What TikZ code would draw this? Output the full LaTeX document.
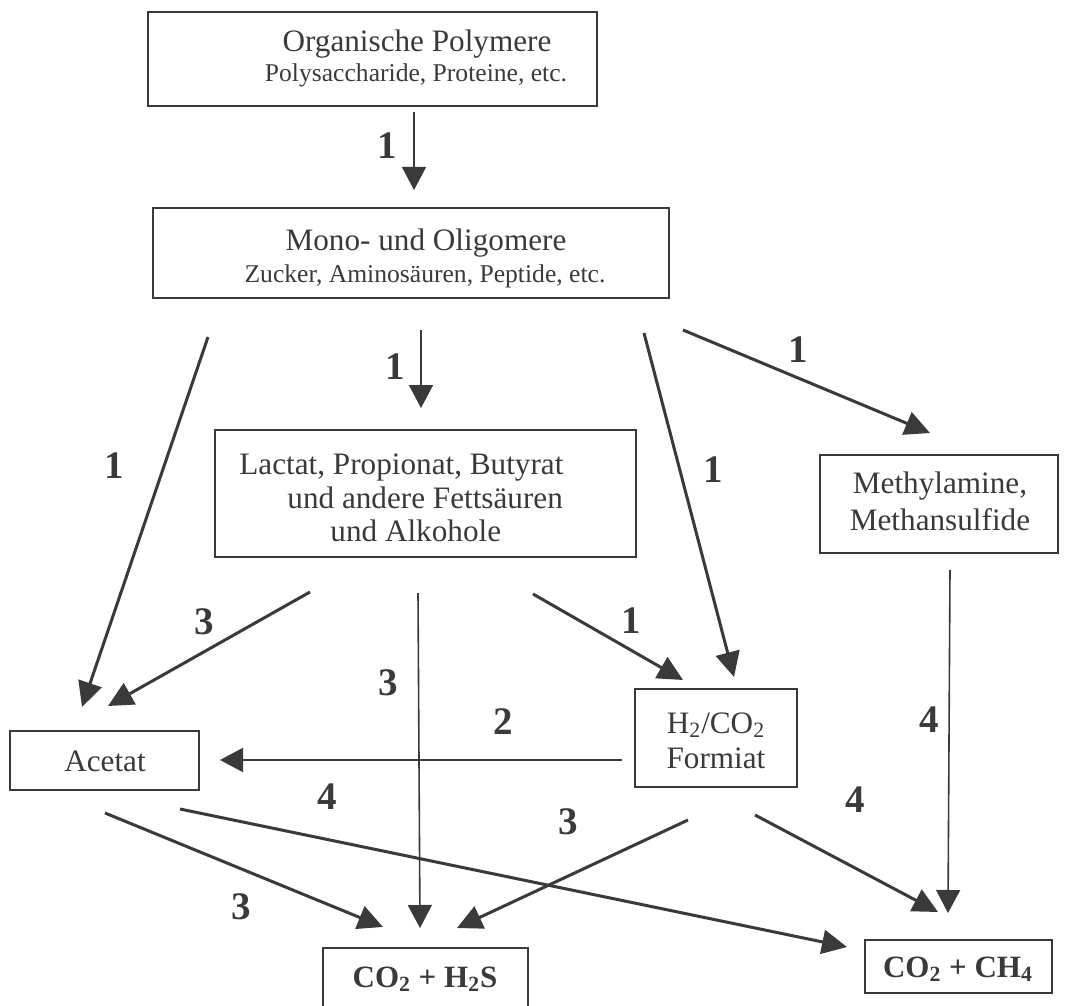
\documentclass[tikz,border=0pt]{standalone}
\usepackage{fontspec}
\setmainfont{Liberation Serif}
\usetikzlibrary{arrows.meta}
\definecolor{ink}{HTML}{3A3A3A}
\begin{document}
\begin{tikzpicture}[x=0.5pt,y=-0.5pt,
  box/.style={draw=ink,line width=0.8pt,inner sep=0pt},
  main/.style={anchor=base,inner sep=0pt,text=ink,font=\fontsize{15.6}{18}\selectfont},
  mainw/.style={anchor=base west,inner sep=0pt,text=ink,font=\fontsize{15.6}{18}\selectfont},
  sub/.style={anchor=base,inner sep=0pt,text=ink,font=\fontsize{12.8}{15}\selectfont},
  lbl/.style={inner sep=0pt,text=ink,font=\fontsize{19.5}{22}\selectfont\bfseries},
  prod/.style={anchor=base,inner sep=0pt,text=ink,font=\fontsize{15.5}{19}\selectfont\bfseries},
  thinarrow/.style={draw=ink,line width=0.8pt,-{Triangle[width=12pt,length=11.5pt]}},
  thickarrow/.style={draw=ink,line width=1.5pt,-{Triangle[width=12pt,length=12.5pt]}},
]
\useasboundingbox (0,0) rectangle (1072,1006);
\fill[white] (0,0) rectangle (1072,1006);

% boxes
\node[box,minimum width=224.5pt,minimum height=47pt] (poly) at (372.5,59) {};
\node[box,minimum width=258pt,minimum height=45pt] (mono) at (411,253) {};
\node[box,minimum width=210.5pt,minimum height=63.5pt] (lact) at (425.5,493.5) {};
\node[box,minimum width=119pt,minimum height=49pt] (meth) at (939,504) {};
\node[box,minimum width=94.5pt,minimum height=29.5pt] (acet) at (104.5,760.5) {};
\node[box,minimum width=81pt,minimum height=49pt] (hyd) at (716,738) {};
\node[box,minimum width=102.5pt,minimum height=32pt] (hs) at (425.5,980) {};
\node[box,minimum width=93.5pt,minimum height=26.5pt] (ch) at (958.5,966.5) {};

% texts
\node[main] (t1a) at (417,52) {Organische Polymere};
\node[sub]  (t1b) at (416,82) {Polysaccharide, Proteine, etc.};
\node[main] (t2a) at (426,250) {Mono- und Oligomere};
\node[sub]  (t2b) at (425,282) {Zucker, Aminosäuren, Peptide, etc.};
\node[mainw] (t3a) at (239,474) {Lactat, Propionat, Butyrat};
\node[mainw] (t3b) at (287,508) {und andere Fettsäuren};
\node[mainw] (t3c) at (330,541) {und Alkohole};
\node[main] (t4a) at (940,493) {Methylamine,};
\node[main] (t4b) at (940,530) {Methansulfide};
\node[main] (t5) at (105,771) {Acetat};
\node[main] (t6a) at (716,733) {H\textsubscript{2}/CO\textsubscript{2}};
\node[main] (t6b) at (716,768) {Formiat};
\node[prod] (t7) at (425,987) {CO\textsubscript{2} + H\textsubscript{2}S};
\node[prod] (t8) at (958,977) {CO\textsubscript{2} + CH\textsubscript{4}};

% arrow end points
\coordinate (a1s) at (414,112);  \coordinate (a1e) at (414,190);
\coordinate (a2s) at (421,330);  \coordinate (a2e) at (421,408);
\coordinate (a3s) at (208,337);  \coordinate (a3e) at (82,707);
\coordinate (a4s) at (644,333);  \coordinate (a4e) at (734,677);
\coordinate (a5s) at (683,330);  \coordinate (a5e) at (930,433);
\coordinate (a6s) at (310,592);  \coordinate (a6e) at (108,706);
\coordinate (a7s) at (418,593);  \coordinate (a7e) at (420,928);
\coordinate (a8s) at (533,594);  \coordinate (a8e) at (683,680);
\coordinate (a9s) at (622,760);  \coordinate (a9e) at (220,760);
\coordinate (a10s) at (105,813); \coordinate (a10e) at (383,927);
\coordinate (a11s) at (180,809); \coordinate (a11e) at (847,947);
\coordinate (a12s) at (688,820); \coordinate (a12e) at (457,928);
\coordinate (a13s) at (755,815); \coordinate (a13e) at (938,912);
\coordinate (a14s) at (950,570); \coordinate (a14e) at (948,913);

\draw[thinarrow] (a1s) -- (a1e);
\draw[thinarrow] (a2s) -- (a2e);
\draw[thickarrow] (a3s) -- (a3e);
\draw[thickarrow] (a4s) -- (a4e);
\draw[thickarrow] (a5s) -- (a5e);
\draw[thickarrow] (a6s) -- (a6e);
\draw[thinarrow] (a7s) -- (a7e);
\draw[thickarrow] (a8s) -- (a8e);
\draw[thinarrow,line width=1pt] (a9s) -- (a9e);
\draw[thickarrow] (a10s) -- (a10e);
\draw[thickarrow] (a11s) -- (a11e);
\draw[thickarrow] (a12s) -- (a12e);
\draw[thickarrow] (a13s) -- (a13e);
\draw[thinarrow] (a14s) -- (a14e);

% labels
\node[lbl] (l1) at (387,146) {1};
\node[lbl] (l2) at (395,367) {1};
\node[lbl] (l3) at (114,466) {1};
\node[lbl] (l4) at (713,470) {1};
\node[lbl] (l5) at (798,350) {1};
\node[lbl] (l6) at (204,622) {3};
\node[lbl] (l7) at (388,683) {3};
\node[lbl] (l8) at (631,621) {1};
\node[lbl] (l9) at (503,722) {2};
\node[lbl] (l10) at (327,797) {4};
\node[lbl] (l11) at (241,907) {3};
\node[lbl] (l12) at (568,822) {3};
\node[lbl] (l13) at (855,800) {4};
\node[lbl] (l14) at (929,720) {4};
\end{tikzpicture}
\end{document}
